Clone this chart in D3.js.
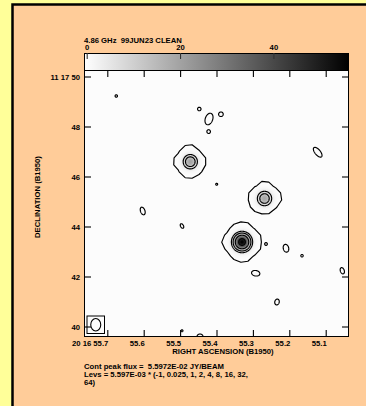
<!DOCTYPE html>
<html>
<head>
<meta charset="utf-8">
<script src="https://cdn.jsdelivr.net/npm/d3@7"></script>
<style>
  body { margin: 0; background: #ffff99; }
  svg { display: block; }
  text { font-family: "Liberation Sans", Arial, sans-serif; font-weight: bold; font-size: 7.7px; fill: #000; white-space: pre; }
</style>
</head>
<body>
<svg id="chart" width="366" height="406"></svg>
<script>
// ---- map header ----
const mapTitle = "4.86 GHz  99JUN23 CLEAN";
const peakFluxJy = 5.5972E-02;
const contourBaseJy = 5.597E-03;
const contourMultipliers = [-1, 0.025, 1, 2, 4, 8, 16, 32, 64];

// ---- axes (RA seconds of 20h16m, Dec arcsec of +11d17m) ----
const raExtent = [55.764, 55.036];
const decExtent = [39.58, 50.26];
const raTicks = [55.7, 55.6, 55.5, 55.4, 55.3, 55.2, 55.1];
const raTickLabels = ["20 16 55.7", "55.6", "55.5", "55.4", "55.3", "55.2", "55.1"];
const decTicks = [50, 48, 46, 44, 42, 40];
const decTickLabels = ["11 17 50", "48", "46", "44", "42", "40"];
const decRefDeg = 11 + 17 / 60 + 45 / 3600;

// ---- grey-scale wedge (mJy/beam) ----
const greyRange = [-0.58, 56.2];
const greyTicks = [0, 20, 40];

// ---- compact sources (Gaussian components) ----
const srcRA    = [55.4720, 55.2681, 55.3299];
const srcDec   = [46.592, 45.12, 43.38];
const srcPeak  = [20.0, 19.0, 55.97];      // mJy/beam
const srcSigma = [0.18, 0.185, 0.20];      // arcsec

// ---- faint islands at the lowest contour ----
const islRA  = [55.6753, 55.4473, 55.4206, 55.3876, 55.4214, 55.1220, 55.3995, 55.6027, 55.4948,
                55.2640, 55.2091, 55.1651, 55.2923, 55.0544, 55.2338, 55.4948, 55.4453];
const islDec = [49.22, 48.70, 48.30, 48.49, 47.79, 46.97, 45.69, 44.62, 44.02,
                43.30, 43.13, 42.83, 42.13, 42.23, 40.98, 39.83, 39.60];
const islMaj = [0.05, 0.07, 0.24, 0.09, 0.065, 0.24, 0.04, 0.16, 0.10,
                0.055, 0.16, 0.05, 0.17, 0.13, 0.12, 0.04, 0.12];   // arcsec
const islMin = [0.05, 0.07, 0.15, 0.09, 0.065, 0.11, 0.04, 0.09, 0.06,
                0.055, 0.11, 0.05, 0.11, 0.08, 0.09, 0.04, 0.10];   // arcsec
const islPA  = [0, 0, -20, 0, 0, 40, 0, 20, 30, 0, 15, 0, 80, 20, -15, 0, 90]; // deg E of N
const islPeak = 0.23; // mJy/beam

// ---- restoring beam ----
const beamMaj = 0.50, beamMin = 0.40, beamPA = 0; // arcsec FWHM, deg

// ---------------------------------------------------------------
const svg = d3.select("#chart");
const W = 366, H = 406;
const plot = { l: 84, r: 349, t: 70, b: 337 };
const wedge = { t: 53, b: 70 };

svg.append("rect").attr("width", W).attr("height", H).attr("fill", "#ffff99");
svg.append("rect").attr("x", 12.5).attr("y", 4.5).attr("width", 420).attr("height", 460)
  .attr("fill", "#ffcc99").attr("stroke", "#000").attr("stroke-width", 2.5);

const x = d3.scaleLinear().domain(raExtent).range([plot.l, plot.r]);
const y = d3.scaleLinear().domain(decExtent).range([plot.b, plot.t]);
const gx = d3.scaleLinear().domain(greyRange).range([plot.l, plot.r]);
const grey = d3.scaleLinear().domain(greyRange).range([255, 0]).clamp(true);

const secToArcsec = 15 * Math.cos(decRefDeg * Math.PI / 180);

function makeComps(ra, dec, peak, maj, min, pa) {
  return ra.map((r, i) => ({ ra: r, dec: dec[i], peak: peak[i], maj: maj[i], min: min[i], pa: pa[i] * Math.PI / 180 }));
}
const sources = makeComps(srcRA, srcDec, srcPeak, srcSigma, srcSigma, srcRA.map(() => 0));
const islands = makeComps(islRA, islDec, islRA.map(() => islPeak), islMaj, islMin, islPA);

function flux(ra, dec, comps) {
  let s = 0;
  for (const c of comps) {
    const e = (ra - c.ra) * secToArcsec, n = dec - c.dec;
    const u = e * Math.sin(c.pa) + n * Math.cos(c.pa);
    const v = e * Math.cos(c.pa) - n * Math.sin(c.pa);
    const q = (u * u) / (c.maj * c.maj) + (v * v) / (c.min * c.min);
    if (q < 60) s += c.peak * Math.exp(-0.5 * q);
  }
  return s;
}

function sampleGrid(nx, ny, comps) {
  const px = d3.scaleLinear().domain([0, nx]).range([plot.l, plot.r]);
  const py = d3.scaleLinear().domain([0, ny]).range([plot.t, plot.b]);
  const vals = new Float64Array(nx * ny);
  for (let j = 0; j < ny; j++) {
    const dec = y.invert(py(j + 0.5));
    for (let i = 0; i < nx; i++) {
      vals[j * nx + i] = flux(x.invert(px(i + 0.5)), dec, comps);
    }
  }
  const path = d3.geoPath(d3.geoTransform({
    point(a, b) { this.stream.point(px(a), py(b)); }
  }));
  return { nx, ny, vals, path };
}

// fine grid for the image, the bright contours and the islands; coarse grid for the source halos
const fineSrc = sampleGrid(530, 534, sources);
const fineIsl = sampleGrid(530, 534, islands);
const coarseSrc = sampleGrid(38, 38, sources);

const levels = contourMultipliers.map(m => m * contourBaseJy * 1000); // mJy/beam
const posLevels = levels.filter(v => v > 0);
const negLevels = levels.filter(v => v < 0).map(v => -v);

// grey-scale image
const canvas = document.createElement("canvas");
canvas.width = fineSrc.nx; canvas.height = fineSrc.ny;
const ctx = canvas.getContext("2d");
const img = ctx.createImageData(fineSrc.nx, fineSrc.ny);
for (let k = 0; k < fineSrc.vals.length; k++) {
  const g = Math.round(grey(fineSrc.vals[k] + fineIsl.vals[k]));
  img.data[4 * k] = g; img.data[4 * k + 1] = g; img.data[4 * k + 2] = g; img.data[4 * k + 3] = 255;
}
ctx.putImageData(img, 0, 0);

svg.append("clipPath").attr("id", "plotClip").append("rect")
  .attr("x", plot.l).attr("y", plot.t).attr("width", plot.r - plot.l).attr("height", plot.b - plot.t);

svg.append("image").attr("x", plot.l).attr("y", plot.t)
  .attr("width", plot.r - plot.l).attr("height", plot.b - plot.t)
  .attr("preserveAspectRatio", "none")
  .attr("href", canvas.toDataURL());

const cont = svg.append("g").attr("clip-path", "url(#plotClip)")
  .attr("fill", "none").attr("stroke", "#000").attr("stroke-width", 1.15).attr("stroke-linejoin", "round");

function drawContours(grid, thresholds, negate, dashed) {
  const vals = negate ? grid.vals.map(v => -v) : grid.vals;
  const gen = d3.contours().size([grid.nx, grid.ny]).thresholds(thresholds);
  cont.append("g").attr("stroke-dasharray", dashed ? "3,2" : null)
    .selectAll("path").data(gen(vals)).join("path").attr("d", grid.path);
}
drawContours(coarseSrc, [posLevels[0]], false, false);
drawContours(fineSrc, posLevels.slice(1), false, false);
drawContours(fineIsl, [posLevels[0]], false, false);
drawContours(fineSrc, negLevels, true, true);

// restoring beam in its box
const pxPerArcsec = Math.abs(y(1) - y(0));
const boxHalf = beamMaj * 0.7 * pxPerArcsec;
const bcx = plot.l + 3 + boxHalf, bcy = plot.b - 3.5 - boxHalf;
svg.append("rect").attr("x", bcx - boxHalf).attr("y", bcy - boxHalf)
  .attr("width", 2 * boxHalf).attr("height", 2 * boxHalf)
  .attr("fill", "none").attr("stroke", "#000").attr("stroke-width", 1);
svg.append("ellipse").attr("cx", bcx).attr("cy", bcy)
  .attr("rx", beamMin / 2 * pxPerArcsec).attr("ry", beamMaj / 2 * pxPerArcsec)
  .attr("transform", `rotate(${-beamPA},${bcx},${bcy})`)
  .attr("fill", "none").attr("stroke", "#000").attr("stroke-width", 1.1);

// frame and ticks
svg.append("rect").attr("x", plot.l + 0.5).attr("y", plot.t + 0.5)
  .attr("width", plot.r - plot.l - 1).attr("height", plot.b - plot.t - 1)
  .attr("fill", "none").attr("stroke", "#000").attr("stroke-width", 1);

function styleAxis(g) {
  g.select(".domain").remove();
  g.selectAll("line").attr("stroke", "#000").attr("stroke-width", 1.1);
  g.attr("font-size", null).attr("font-family", null);
}
svg.append("g").attr("transform", `translate(0,${plot.t})`)
  .call(d3.axisTop(x).tickValues(raTicks).tickSize(-7).tickFormat("")).call(styleAxis);
svg.append("g").attr("transform", `translate(0,${plot.b})`)
  .call(d3.axisBottom(x).tickValues(raTicks).tickSize(-7).tickFormat((d, i) => raTickLabels[i]))
  .call(styleAxis)
  .call(g => g.selectAll("text").attr("y", 9).attr("dy", null).attr("x", 0.5).attr("text-anchor", "end"));
svg.append("g").attr("transform", `translate(${plot.l},0)`)
  .call(d3.axisLeft(y).tickValues(decTicks).tickSize(-7).tickFormat((d, i) => decTickLabels[i]))
  .call(styleAxis)
  .call(g => g.selectAll("text").attr("x", -4).attr("dy", "0.36em").attr("text-anchor", "end"));
svg.append("g").attr("transform", `translate(${plot.r},0)`)
  .call(d3.axisRight(y).tickValues(decTicks).tickSize(-7).tickFormat("")).call(styleAxis);

// grey-scale wedge
const grad = svg.append("defs").append("linearGradient").attr("id", "wedgeGrad")
  .attr("gradientUnits", "userSpaceOnUse")
  .attr("x1", plot.l).attr("x2", plot.r).attr("y1", 0).attr("y2", 0);
greyRange.forEach((v, i) => {
  const g = Math.round(grey(v));
  grad.append("stop").attr("offset", i).attr("stop-color", `rgb(${g},${g},${g})`);
});
svg.append("rect").attr("x", plot.l + 0.5).attr("y", wedge.t + 0.5)
  .attr("width", plot.r - plot.l - 1).attr("height", wedge.b - wedge.t)
  .attr("fill", "url(#wedgeGrad)").attr("stroke", "#000").attr("stroke-width", 1);
svg.append("g").attr("transform", `translate(0,${wedge.t})`)
  .call(d3.axisTop(gx).tickValues(greyTicks).tickSize(-6).tickFormat(d3.format("d")))
  .call(styleAxis)
  .call(g => g.selectAll("line").attr("stroke", "#333"))
  .call(g => g.selectAll("text").attr("y", -3).attr("dy", null).attr("text-anchor", "middle"));

// titles and notes
svg.append("text").attr("x", plot.l).attr("y", 42.5).attr("xml:space", "preserve").text(mapTitle);
svg.append("text").attr("x", 223).attr("y", 354).attr("text-anchor", "middle").text("RIGHT ASCENSION (B1950)");
svg.append("text").attr("transform", "translate(39.5,197) rotate(-90)").attr("text-anchor", "middle")
  .text("DECLINATION (B1950)");

function fmtE(v, digits) {
  const [m, e] = v.toExponential(digits).split("e");
  const ex = parseInt(e, 10);
  return `${m}E${ex < 0 ? "-" : "+"}${String(Math.abs(ex)).padStart(2, "0")}`;
}
const multStr = contourMultipliers.map(String);
const noteLines = [
  `Cont peak flux =  ${fmtE(peakFluxJy, 4)} JY/BEAM`,
  `Levs = ${fmtE(contourBaseJy, 3)} * (${multStr.slice(0, -1).join(", ")},`,
  `${multStr[multStr.length - 1]})`
];
svg.append("g").selectAll("text").data(noteLines).join("text")
  .attr("x", plot.l).attr("y", (d, i) => 369 + i * 8.2).attr("xml:space", "preserve").text(d => d);
</script>
</body>
</html>
